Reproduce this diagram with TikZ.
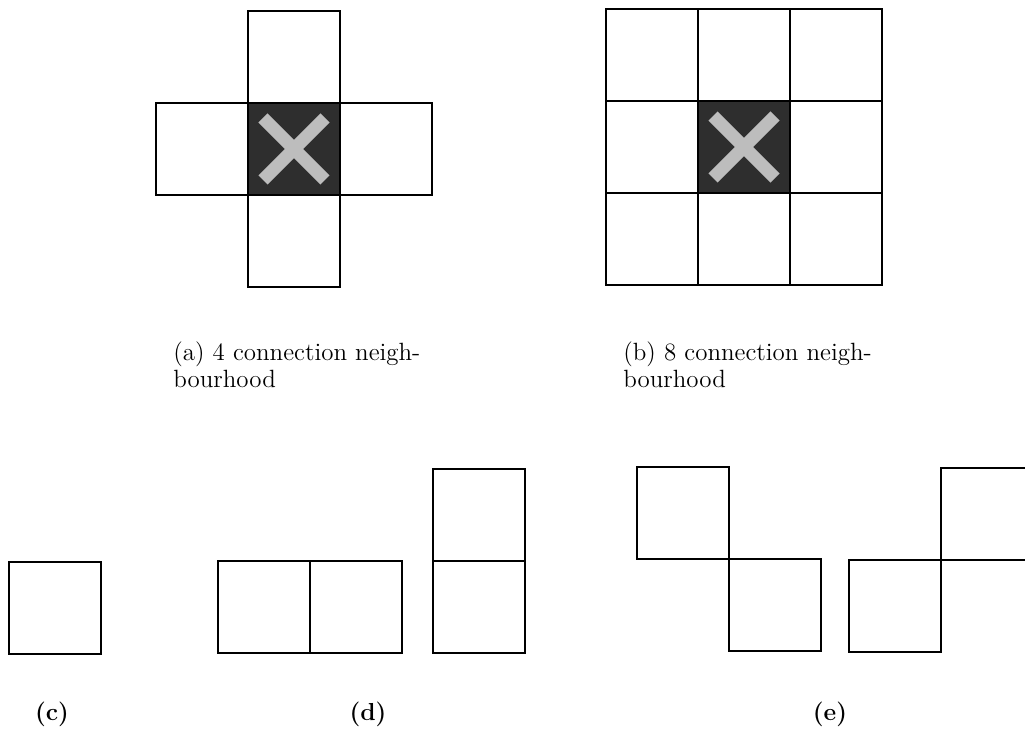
\documentclass[tikz,border=0pt]{standalone}
\usepackage{tikz}
\usetikzlibrary{positioning}

\begin{document}
\begin{tikzpicture}[
    x=0.02cm, y=-0.02cm,
    cell/.style={rectangle, draw, line width=1.6pt, minimum size=1.84cm,
                 inner sep=0pt, outer sep=0pt},
    centre/.style={cell, fill=black!82},
    cross/.style={line width=7.4pt, black!26},
    caption/.style={anchor=base west, align=left, inner sep=0pt,
                    font=\fontsize{14.2}{15.6}\selectfont},
    tag/.style={font=\bfseries\fontsize{14}{16}\selectfont}
  ]
  \useasboundingbox (0,0) rectangle (1025,729);
  \clip (0,0) rectangle (1025,729);

  % (a) 4 connection neighbourhood
  \node[centre] (a_c) at (294,149) {};
  \node[cell, above=0pt of a_c] (a_n) {};
  \node[cell, below=0pt of a_c] (a_s) {};
  \node[cell, left=0pt of a_c] (a_w) {};
  \node[cell, right=0pt of a_c] (a_e) {};
  \draw[cross] ([shift={(-31,-31)}]a_c.center) -- ([shift={(31,31)}]a_c.center);
  \draw[cross] ([shift={(-31,31)}]a_c.center) -- ([shift={(31,-31)}]a_c.center);
  \node[caption] (cap_a) at (173,388) {(a) 4 connection neigh-\\bourhood};

  % (b) 8 connection neighbourhood
  \node[centre] (b_c) at (744,147) {};
  \node[cell, above=0pt of b_c] (b_n) {};
  \node[cell, below=0pt of b_c] (b_s) {};
  \node[cell, left=0pt of b_c] (b_w) {};
  \node[cell, right=0pt of b_c] (b_e) {};
  \node[cell, left=0pt of b_n] (b_nw) {};
  \node[cell, right=0pt of b_n] (b_ne) {};
  \node[cell, left=0pt of b_s] (b_sw) {};
  \node[cell, right=0pt of b_s] (b_se) {};
  \draw[cross] ([shift={(-31,-31)}]b_c.center) -- ([shift={(31,31)}]b_c.center);
  \draw[cross] ([shift={(-31,31)}]b_c.center) -- ([shift={(31,-31)}]b_c.center);
  \node[caption] (cap_b) at (623,388) {(b) 8 connection neigh-\\bourhood};

  % (c) single pixel
  \node[cell] (c_1) at (55,608) {};
  \node[tag] (tag_c) at (52,714) {(c)};

  % (d) 4 connected pairs
  \node[cell] (d_1) at (264,607) {};
  \node[cell, right=0pt of d_1] (d_2) {};
  \node[cell] (d_3) at (479,607) {};
  \node[cell, above=0pt of d_3] (d_4) {};
  \node[tag] (tag_d) at (368,714) {(d)};

  % (e) 8 connected pairs
  \node[cell] (e_1) at (683,513) {};
  \node[cell, below right=0pt and 0pt of e_1] (e_2) {};
  \node[cell] (e_3) at (895,606) {};
  \node[cell, above right=0pt and 0pt of e_3] (e_4) {};
  \node[tag] (tag_e) at (830,714) {(e)};
\end{tikzpicture}
\end{document}
